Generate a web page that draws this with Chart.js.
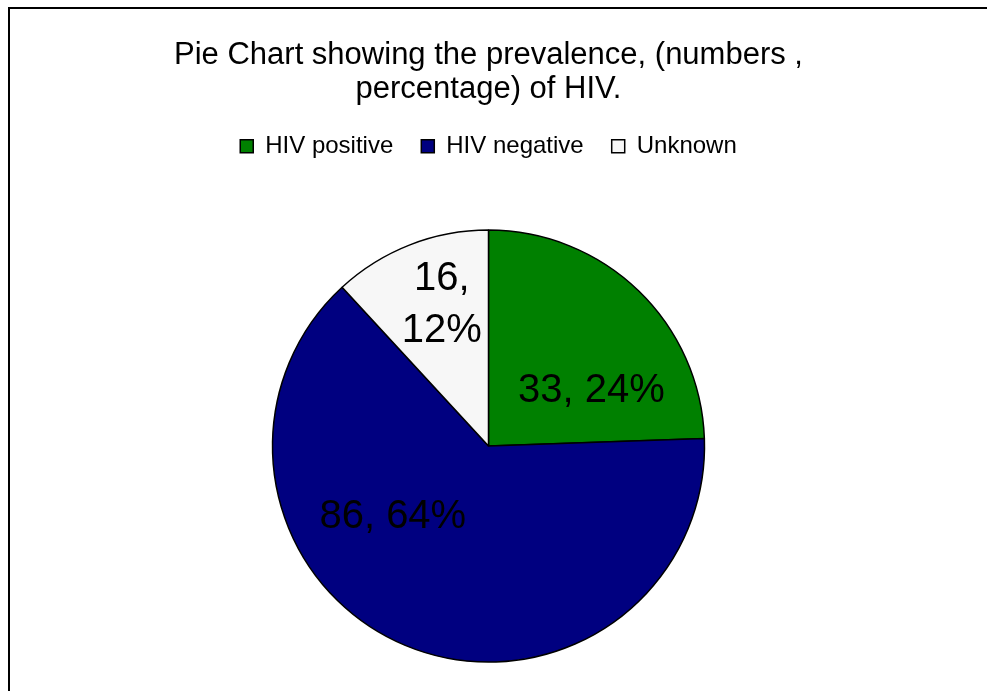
<!DOCTYPE html>
<html>
<head>
<meta charset="utf-8">
<title>HIV prevalence</title>
<script src="https://cdn.jsdelivr.net/npm/chart.js@4.4.1/dist/chart.umd.min.js"></script>
<style>
  html, body { margin: 0; padding: 0; background: #fff; overflow: hidden; }
  #frame {
    position: absolute; left: 8px; top: 7px;
    width: 1100px; height: 800px;
    border: 2px solid #000; box-sizing: border-box;
  }
  #chart { position: absolute; left: 0; top: 0; }
</style>
</head>
<body>
<div id="frame"></div>
<canvas id="chart" width="987" height="724"></canvas>
<script>
// pie data
const categories = ['HIV positive', 'HIV negative', 'Unknown'];
const counts = [33, 86, 16];
const sliceColors = ['#008000', '#000080', '#F7F7F7'];
const titleLines = ['Pie Chart showing the prevalence, (numbers ,', 'percentage) of HIV.'];

const FONT = "'Liberation Sans', Arial, Helvetica, sans-serif";

// where each value label sits: degrees past the slice's mid-angle and fraction of the radius
const labelPlacement = [
  { shift: 18, frac: 0.54, wrap: false },
  { shift: 31, frac: 0.55, wrap: false },
  { shift: 3, frac: 0.687, wrap: true },
];

const total = counts.reduce((a, b) => a + b, 0);

const sliceLabels = {
  id: 'sliceLabels',
  afterDatasetsDraw(chart) {
    const ctx = chart.ctx;
    const meta = chart.getDatasetMeta(0);
    ctx.save();
    ctx.font = `40px ${FONT}`;
    ctx.fillStyle = '#000';
    ctx.textAlign = 'center';
    ctx.textBaseline = 'middle';
    meta.data.forEach((arc, i) => {
      const { x, y, startAngle, endAngle, outerRadius } = arc.getProps(['x', 'y', 'startAngle', 'endAngle', 'outerRadius'], true);
      const p = labelPlacement[i];
      const a = (startAngle + endAngle) / 2 + p.shift * Math.PI / 180;
      const r = outerRadius * p.frac;
      const lx = x + r * Math.cos(a);
      const ly = y + r * Math.sin(a);
      const v = counts[i];
      const pct = Math.round(v / total * 100) + '%';
      if (p.wrap) {
        ctx.fillText(v + ',', lx, ly - 26);
        ctx.fillText(pct, lx, ly + 26);
      } else {
        ctx.fillText(v + ', ' + pct, lx, ly);
      }
    });
    ctx.restore();
  },
};

new Chart(document.getElementById('chart'), {
  type: 'pie',
  data: {
    labels: categories,
    datasets: [{
      data: counts,
      backgroundColor: sliceColors,
      borderColor: '#000',
      borderWidth: 1.5,
    }],
  },
  options: {
    responsive: false,
    animation: false,
    devicePixelRatio: 1,
    radius: 216,
    layout: { padding: { right: 10 } },
    plugins: {
      title: {
        display: true,
        text: titleLines,
        color: '#000',
        font: { family: FONT, size: 31, weight: 'normal', lineHeight: 1.1 },
        padding: { top: 38, bottom: 0 },
      },
      legend: {
        position: 'top',
        labels: {
          color: '#000',
          font: { family: FONT, size: 24 },
          boxWidth: 13,
          boxHeight: 13,
          padding: 28,
        },
      },
      tooltip: { enabled: false },
    },
  },
  plugins: [sliceLabels],
});
</script>
</body>
</html>
